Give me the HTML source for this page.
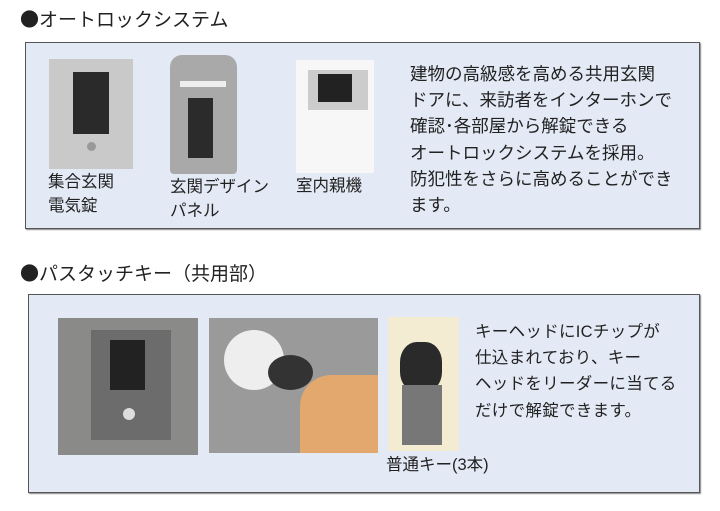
<!DOCTYPE html>
<html><head><meta charset="utf-8"><style>
body{margin:0;width:720px;height:511px;background:#fff;position:relative;overflow:hidden;font-family:"Liberation Sans","Noto Sans CJK JP",sans-serif;color:#222}
.a{position:absolute}
.h{font-size:19px;line-height:20px}
.h b{font-family:"Noto Sans CJK JP",sans-serif;font-weight:normal;font-size:19px}
.box{background:#e3eaf5;border:1.5px solid #555;box-shadow:1px 1px 1px #888}
.t{font-size:17.5px;line-height:26.2px}
.t2{font-size:15.5px;line-height:26.2px;letter-spacing:0.3px}
.c{font-size:16.5px;line-height:24px}
</style></head><body>
<div class="a h" style="left:20px;top:9px"><b>●</b>オートロックシステム</div>
<div class="a box" style="left:25px;top:42px;width:673px;height:185px"></div>
<div class="a" style="left:49px;top:59px;width:84px;height:110px;background:#c9c9c9"></div>
<div class="a" style="left:73px;top:72px;width:36px;height:62px;background:#2a2a2a"></div>
<div class="a" style="left:87px;top:142px;width:9px;height:9px;border-radius:50%;background:#999"></div>
<div class="a" style="left:170px;top:55px;width:67px;height:119px;background:#a9a9a9;border-radius:12px 12px 4px 4px"></div>
<div class="a" style="left:180px;top:81px;width:46px;height:6px;background:#eee"></div>
<div class="a" style="left:188px;top:98px;width:25px;height:60px;background:#2b2b2b"></div>
<div class="a" style="left:296px;top:60px;width:78px;height:113px;background:#f7f7f7"></div>
<div class="a" style="left:308px;top:70px;width:60px;height:40px;background:#ccc"></div>
<div class="a" style="left:318px;top:74px;width:34px;height:28px;background:#222"></div>
<div class="a c" style="left:48px;top:170px">集合玄関<br>電気錠</div>
<div class="a c" style="left:170px;top:175px">玄関デザイン<br>パネル</div>
<div class="a c" style="left:296px;top:174px">室内親機</div>
<div class="a t" style="left:410px;top:61px">建物の高級感を高める共用玄関<br>ドアに、来訪者をインターホンで<br>確認･各部屋から解錠できる<br>オートロックシステムを採用。<br>防犯性をさらに高めることができ<br>ます。</div>

<div class="a h" style="left:20px;top:263px"><b>●</b>パスタッチキー（共用部）</div>
<div class="a box" style="left:28px;top:294px;width:670px;height:197px"></div>
<div class="a" style="left:58px;top:318px;width:140px;height:137px;background:#8a8a88"></div>
<div class="a" style="left:91px;top:330px;width:80px;height:110px;background:#6c6c6c"></div>
<div class="a" style="left:110px;top:340px;width:35px;height:50px;background:#222"></div>
<div class="a" style="left:123px;top:408px;width:12px;height:12px;border-radius:50%;background:#ddd"></div>
<div class="a" style="left:209px;top:318px;width:169px;height:135px;background:#9a9a9a"></div>
<div class="a" style="left:224px;top:330px;width:60px;height:60px;border-radius:50%;background:#eee"></div>
<div class="a" style="left:268px;top:355px;width:45px;height:35px;border-radius:50%;background:#333"></div>
<div class="a" style="left:300px;top:375px;width:78px;height:78px;border-radius:40% 0 0 0;background:#e2a86e"></div>
<div class="a" style="left:388px;top:317px;width:71px;height:134px;background:#f3ecd2"></div>
<div class="a" style="left:400px;top:342px;width:42px;height:50px;border-radius:40%;background:#2a2a2a"></div>
<div class="a" style="left:402px;top:385px;width:40px;height:60px;background:#777"></div>
<div class="a c" style="left:386px;top:453px">普通キー(3本)</div>
<div class="a t2" style="left:475px;top:319px;font-size:16.5px">キーヘッドにICチップが<br>仕込まれており、キー<br>ヘッドをリーダーに当てる<br>だけで解錠できます。</div>
</body></html>
